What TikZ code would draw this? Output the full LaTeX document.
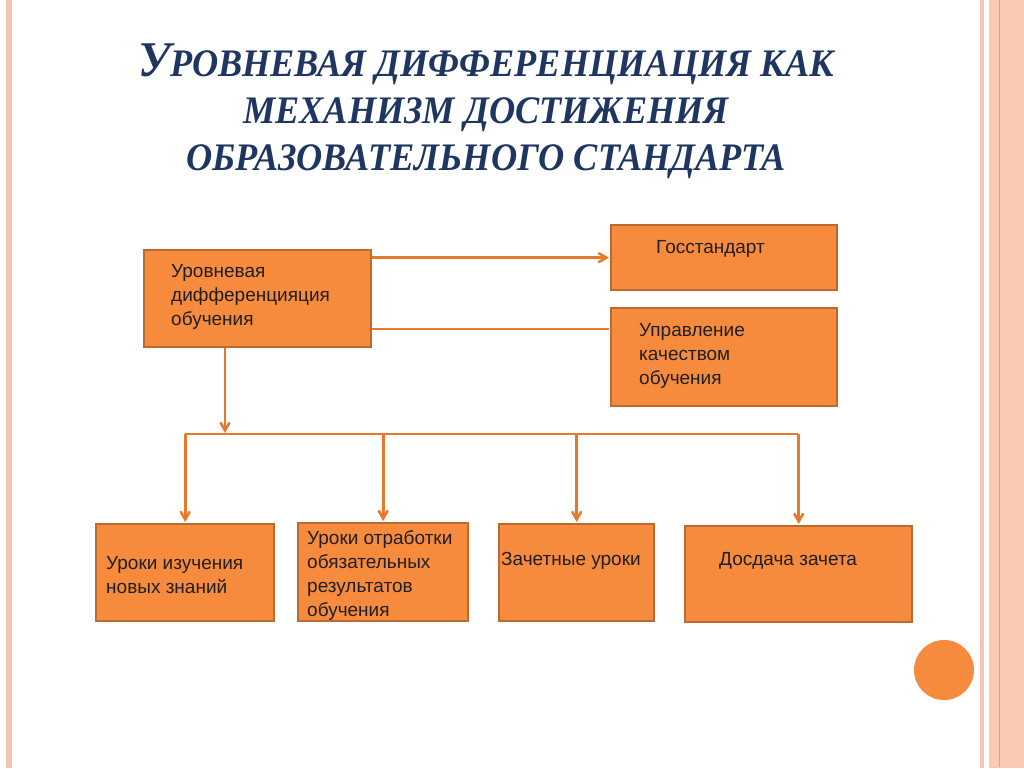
\documentclass[tikz,border=0pt]{standalone}
\usepackage{fontspec}
\setmainfont{Liberation Sans}
\newfontfamily\titlefont[FakeStretch=0.93]{Liberation Serif}
\usetikzlibrary{arrows}

\definecolor{boxfill}{HTML}{F78B3D}
\definecolor{boxline}{HTML}{BD6A30}
\definecolor{linkcol}{HTML}{E8792B}
\definecolor{titleblue}{HTML}{1F3660}
\definecolor{stripe}{HTML}{F2C6B6}
\definecolor{peach}{HTML}{FACBB2}
\definecolor{peachdark}{HTML}{E3A184}

\begin{document}
\begin{tikzpicture}[x=1pt,y=-1pt,>=angle 60,shorten >=1pt,
  box/.style={draw=boxline,fill=boxfill,line width=2.4pt,anchor=north west,inner sep=0pt},
  txt/.style={anchor=west,align=left,inner sep=0pt,text=black!88,
    font=\fontsize{19}{24}\selectfont},
  link/.style={draw=linkcol,line width=2.6pt}]

  \useasboundingbox (0,0) rectangle (1024,768);

  % page edges
  \fill[stripe] (6,0) rectangle (12,768);
  \fill[stripe] (980,0) rectangle (984,768);
  \fill[peach] (989,0) rectangle (1024,768);
  \draw[peachdark,line width=1pt] (999,0) -- (999,768);

  \node[align=center,text=titleblue,
    font=\titlefont\bfseries\itshape\fontsize{39}{47}\selectfont] (title) at (486,111)
    {{\fontsize{50}{47}\selectfont У}РОВНЕВАЯ ДИФФЕРЕНЦИАЦИЯ КАК\\
     МЕХАНИЗМ ДОСТИЖЕНИЯ\\ОБРАЗОВАТЕЛЬНОГО СТАНДАРТА};

  % boxes
  \node[box,minimum width=227pt,minimum height=97pt] (main) at (143,249) {};
  \node[box,minimum width=226pt,minimum height=65pt] (gost) at (610,224) {};
  \node[box,minimum width=226pt,minimum height=98pt] (ctrl) at (610,307) {};
  \node[box,minimum width=178pt,minimum height=97pt] (b1) at (95,523) {};
  \node[box,minimum width=170pt,minimum height=98pt] (b2) at (297,522) {};
  \node[box,minimum width=155pt,minimum height=97pt] (b3) at (498,523) {};
  \node[box,minimum width=227pt,minimum height=96pt] (b4) at (684,525) {};

  \node[txt] (main-t) at (171,296.5) {Уровневая\\дифференцияция\\обучения};
  \node[txt] (gost-t) at (656,249) {Госстандарт};
  \node[txt] (ctrl-t) at (639,355.5) {Управление\\качеством\\обучения};
  \node[txt] (b1-t) at (106,575) {Уроки изучения\\новых знаний};
  \node[txt] (b2-t) at (307,575) {Уроки отработки\\обязательных\\результатов\\обучения};
  \node[txt] (b3-t) at (501,561) {Зачетные уроки};
  \node[txt] (b4-t) at (719,561) {Досдача зачета};

  \fill[boxfill] (944,670) circle (30pt);

  % connectors
  \coordinate (bus) at (0,434);
  \coordinate (m2) at ([yshift=-80pt]main.north east);
  \coordinate (m3) at ([xshift=82pt]main.south west);

  \draw[link,->] (gost.west -| main.east) -- (gost.west);
  \draw[link] (m2) -- (m2 -| ctrl.west);
  \draw[link,->] (m3) -- (m3 |- bus);
  \draw[link] (b1.north |- bus) -- (b4.north |- bus);
  \foreach \n in {b1,b2,b3,b4}
    \draw[link,->] (\n.north |- bus) -- (\n.north);

\end{tikzpicture}
\end{document}
